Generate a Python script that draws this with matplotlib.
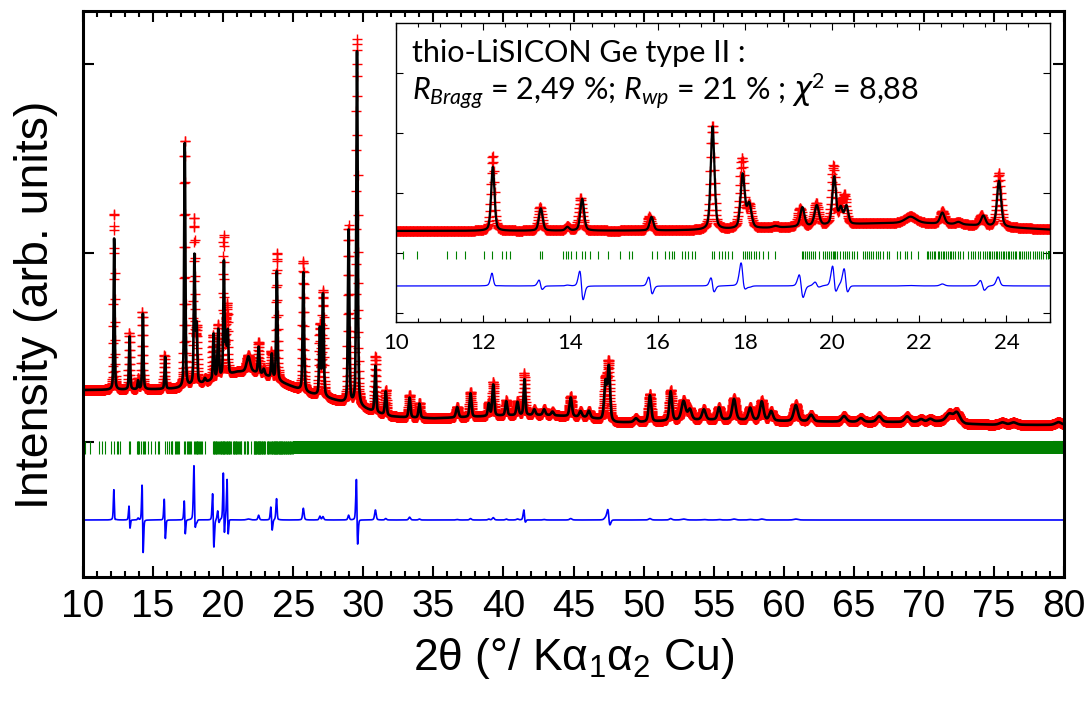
"""Rietveld plot of thio-LiSICON Ge type II (obs / calc / diff / Bragg)."""

import numpy as np
import matplotlib
matplotlib.use("Agg")
import matplotlib.pyplot as plt
from matplotlib.ticker import MultipleLocator, NullFormatter

plt.rcParams["font.family"] = ["Liberation Sans", "DejaVu Sans"]
plt.rcParams["mathtext.fontset"] = "custom"
plt.rcParams["mathtext.rm"] = "Lato"
plt.rcParams["mathtext.it"] = "Lato:italic"
plt.rcParams["mathtext.sf"] = "DejaVu Sans:italic"
plt.rcParams["mathtext.default"] = "regular"

# background under the pattern (2theta, counts)
bg_tth = [10, 12, 14, 16, 17, 18, 19, 20, 21, 22, 23, 24, 25, 26, 27, 28, 29, 30,
          31, 32, 33, 35, 37, 40, 43, 46, 48, 50, 53, 56, 60, 65, 70, 72, 73, 75, 80]
bg_counts = [550, 552, 555, 560, 570, 600, 640, 690, 740, 745, 705, 640, 580, 520,
             480, 440, 400, 355, 305, 270, 260, 250, 260, 280, 285, 260, 205, 210,
             230, 235, 220, 212, 210, 225, 190, 182, 180]

# reflections: calc position, calc height, obs height, fwhm, obs shift
peak_pos = [12.22, 13.32, 13.93, 14.27, 15.86, 17.26, 17.95, 18.10, 18.70, 19.32,
            19.65, 20.05, 20.20, 20.33, 21.80, 22.53, 22.90, 23.47, 23.83, 25.72,
            26.90, 27.12, 28.95, 29.55, 30.86, 31.60, 33.30, 34.00, 36.70, 37.65,
            38.95, 39.27, 40.20, 41.00, 41.50, 42.20, 42.90, 43.50, 44.80, 45.50,
            46.10, 47.28, 47.52, 49.45, 50.45, 51.93, 52.85, 53.30, 54.30, 55.38,
            56.45, 57.60, 58.43, 59.10, 60.86, 61.95, 64.30, 65.50, 66.80, 68.80,
            69.80, 70.45, 71.80, 72.35, 75.60, 76.40, 79.60]
peak_calc = [1600, 560, 90, 800, 340, 2580, 1350, 600, 40, 480,
             510, 1200, 400, 450, 160, 280, 60, 250, 1150, 1256,
             700, 1075, 1830, 3750, 490, 250, 210, 150, 110, 250,
             130, 330, 150, 140, 380, 60, 60, 40, 200, 60,
             70, 400, 560, 40, 280, 310, 200, 110, 110, 130,
             220, 130, 200, 100, 170, 70, 60, 40, 60, 60,
             30, 30, 70, 100, 25, 25, 30]
peak_obs = [1870, 605, 110, 820, 360, 2620, 1750, 560, 40, 470,
            560, 1470, 420, 670, 170, 330, 60, 270, 1350, 1380,
            740, 1110, 1880, 3880, 596, 265, 240, 160, 115, 265,
            140, 355, 160, 150, 444, 60, 65, 40, 215, 60,
            70, 420, 600, 40, 295, 325, 210, 110, 115, 135,
            230, 135, 210, 100, 180, 70, 60, 40, 60, 60,
            30, 30, 70, 100, 25, 25, 30]
peak_fwhm = [0.09, 0.10, 0.10, 0.10, 0.10, 0.10, 0.11, 0.12, 0.15, 0.11,
             0.12, 0.10, 0.10, 0.10, 0.30, 0.12, 0.15, 0.12, 0.11, 0.12,
             0.12, 0.13, 0.12, 0.12, 0.13, 0.14, 0.15, 0.15, 0.20, 0.16,
             0.15, 0.16, 0.16, 0.18, 0.14, 0.20, 0.20, 0.20, 0.20, 0.22,
             0.22, 0.22, 0.20, 0.30, 0.22, 0.22, 0.35, 0.30, 0.30, 0.25,
             0.30, 0.30, 0.30, 0.30, 0.35, 0.35, 0.40, 0.40, 0.40, 0.40,
             0.40, 0.40, 0.50, 0.50, 0.50, 0.50, 0.50]
peak_shift = [-0.004, -0.015, 0.0, -0.035, -0.05, -0.005, -0.015, 0.0, 0.0, -0.055,
              -0.01, -0.017, 0.0, -0.04, 0.0, 0.0, 0.0, -0.045, -0.004, 0.0,
              0.0, 0.0, 0.0, -0.008, 0.0, 0.0, 0.0, 0.0, 0.0, 0.0,
              0.0, 0.0, 0.0, 0.0, -0.015, 0.0, 0.0, 0.0, 0.0, 0.0,
              0.0, 0.0, -0.02, 0.0, 0.0, 0.0, 0.0, 0.0, 0.0, 0.0,
              0.0, 0.0, 0.0, 0.0, 0.0, 0.0, 0.0, 0.0, 0.0, 0.0,
              0.0, 0.0, 0.0, 0.0, 0.0, 0.0, 0.0]

# Bragg positions that are still resolved; above bragg_dense they merge
bragg_pos = [10.15, 10.49, 11.16, 11.38, 11.59, 12.02, 12.21, 12.43, 12.52, 12.61,
             13.30, 13.34, 13.84, 13.89, 13.95, 14.01, 14.12, 14.26, 14.33, 14.45,
             14.64, 14.87, 15.14, 15.35, 15.42, 15.86, 15.98, 16.17, 16.25, 16.32,
             16.38, 16.56, 16.63, 16.70, 16.78, 16.86, 17.24, 17.30, 17.40, 17.47,
             17.55, 17.62, 17.70, 17.95, 18.00, 18.05, 18.10, 18.15, 18.20, 18.26,
             18.33, 18.42, 18.52, 18.69, 19.30, 19.34, 19.38, 19.42, 19.47, 19.52,
             19.57, 19.62, 19.69, 19.80, 19.84, 19.88, 19.93, 19.97, 20.02, 20.05,
             20.07, 20.12, 20.18, 20.25, 20.29, 20.35, 20.40, 20.45, 20.50, 20.57,
             20.72, 20.76, 20.80, 20.85, 20.90, 20.95, 21.00, 21.05, 21.10, 21.18,
             21.25, 21.30, 21.48, 21.55, 21.67, 21.71, 21.80, 21.98, 22.17, 22.21,
             22.25, 22.30, 22.33, 22.37, 22.42, 22.45, 22.49, 22.54, 22.57, 22.61,
             22.66, 22.70, 22.74, 22.78, 22.83, 22.88, 22.93, 23.01, 23.13, 23.18,
             23.23, 23.28, 23.34, 23.39, 23.47, 23.51, 23.55, 23.60, 23.63, 23.67,
             23.72, 23.75, 23.79, 23.83, 23.87, 23.92, 23.95, 23.99, 24.04, 24.07,
             24.11, 24.16, 24.19, 24.23, 24.28, 24.31, 24.35, 24.40, 24.45, 24.50,
             24.55, 24.60, 24.65, 24.70, 24.75, 24.80, 24.85, 24.90, 24.96]
bragg_dense = [24.95, 80.0]

DIFF_OFFSET = -825
STEP = 0.01


def pseudo_voigt(x, center, fwhm, eta=0.4):
    u = (x - center) / fwhm
    return eta / (1 + 4 * u ** 2) + (1 - eta) * np.exp(-4 * np.log(2) * u ** 2)


def build_profiles():
    tth = np.arange(10.0, 80.0 + STEP / 2, STEP)
    bg = np.interp(tth, bg_tth, bg_counts)
    calc = bg.copy()
    obs = bg.copy()
    for p, hc, ho, w, s in zip(peak_pos, peak_calc, peak_obs, peak_fwhm, peak_shift):
        calc += hc * pseudo_voigt(tth, p, w)
        obs += ho * pseudo_voigt(tth, p + s, w)
    return tth, obs, calc


def draw_pattern(ax, tth, obs, calc, ms, calc_lw, diff_lw, tick_span):
    ax.plot(tth, obs, "+", color="red", ms=ms, mew=1.0, zorder=2)
    ax.plot(tth, calc, "-", color="black", lw=calc_lw, zorder=3)
    ax.vlines(bragg_pos, tick_span[0], tick_span[1], color="#008000", lw=0.8, zorder=2)
    ax.fill_between(bragg_dense, tick_span[0], tick_span[1], color="#008000", lw=0, zorder=2)
    ax.plot(tth, obs - calc + DIFF_OFFSET, "-", color="blue", lw=diff_lw, zorder=2)


def main():
    tth, obs, calc = build_profiles()

    fig = plt.figure(figsize=(10.88, 7.01), dpi=100)
    ax = fig.add_axes([0.0763, 0.1769, 0.9017, 0.8078])
    draw_pattern(ax, tth, obs, calc, ms=7, calc_lw=1.9, diff_lw=1.2, tick_span=(-127, 10))
    ax.set_xlim(10, 80)
    ax.set_ylim(-1428, 4563)
    ax.xaxis.set_major_locator(MultipleLocator(5))
    ax.xaxis.set_minor_locator(MultipleLocator(1))
    ax.set_yticks([0, 2000, 4000])
    ax.yaxis.set_major_formatter(NullFormatter())
    ax.tick_params(which="both", direction="in", top=True, right=True, width=1.5)
    ax.tick_params(which="major", length=8, labelsize=28, pad=9)
    ax.tick_params(which="minor", length=4.5)
    for sp in ax.spines.values():
        sp.set_linewidth(2.2)
    ax.set_xlabel("2θ (°/ Kα$_1$α$_2$ Cu)", fontsize=32)
    ax.xaxis.set_label_coords(0.5, -0.105)
    ax.set_ylabel("Intensity (arb. units)", fontsize=33.5, va="center")
    ax.yaxis.set_label_coords(-0.048, 0.48)

    ins = fig.add_axes([0.3640, 0.5407, 0.6011, 0.4270])
    ins.set_facecolor("white")
    draw_pattern(ins, tth, obs, calc, ms=7, calc_lw=1.6, diff_lw=0.9, tick_span=(-150, 50))
    ins.set_xlim(10, 25)
    ins.set_ylim(-1725, 5757)
    ins.xaxis.set_major_locator(MultipleLocator(2))
    ins.xaxis.set_minor_locator(MultipleLocator(0.5))
    ins.set_yticks([-1500, 0, 1500, 3000, 4500])
    ins.yaxis.set_major_formatter(NullFormatter())
    ins.tick_params(which="both", direction="in", top=True, right=True, width=0.8)
    ins.tick_params(which="major", length=5, labelsize=16, pad=8)
    ins.tick_params(which="minor", length=3)
    for lab in ins.get_xticklabels():
        lab.set_fontfamily("Lato")
    for sp in ins.spines.values():
        sp.set_linewidth(1.0)

    ins.text(0.0245, 0.870, "thio-LiSICON Ge type II :", transform=ins.transAxes,
             fontsize=22, family="Lato", va="baseline", ha="left")
    ins.text(0.0245, 0.742,
             r"$\mathit{R}_{\mathit{Bragg}}$ = 2,49 %; $\mathit{R}_{\mathit{wp}}$ = 21 % ; "
             r"$\mathsf{\chi}^{2}$ = 8,88",
             transform=ins.transAxes, fontsize=22, family="Lato", va="baseline", ha="left")

    fig.savefig("out.png", dpi=100)
    plt.close(fig)


if __name__ == "__main__":
    main()
